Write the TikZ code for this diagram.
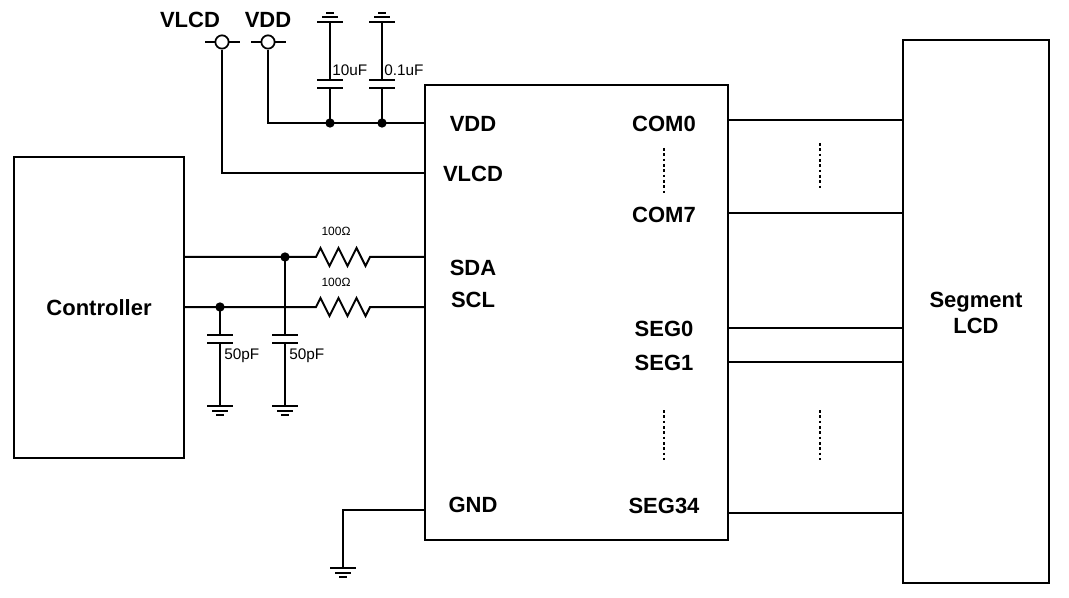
\documentclass[tikz,border=0pt]{standalone}
\usepackage{fontspec}
\setmainfont{Liberation Sans}
\begin{document}
\begin{tikzpicture}[x=0.75pt,y=-0.75pt,line width=1.5pt,
  box/.style={draw,line width=1.5pt},
  big/.style={font=\fontsize{16.5}{19}\selectfont\bfseries},
  small/.style={font=\fontsize{11.5}{13}\selectfont},
  tiny/.style={font=\fontsize{9}{10}\selectfont},
  dot/.style={circle,fill,inner sep=0pt,minimum size=7pt},
  gnd/.pic={\draw (0,0)--(0,6); \draw (-13,6)--(13,6); \draw (-8,11)--(8,11); \draw (-4,15)--(4,15);},
  gndup/.pic={\draw (0,0)--(0,-6); \draw (-13,-6)--(13,-6); \draw (-8,-11)--(8,-11); \draw (-4,-15)--(4,-15);},
  capv/.pic={\draw (-13,-4)--(13,-4); \draw (-13,4)--(13,4);}]
\useasboundingbox (0,0) rectangle (1069,598);
% boxes
\draw[box] (14,157) rectangle (184,458);
\node[big] (ctrl) at (99,308) {Controller};
\draw[box] (425,85) rectangle (728,540);
\draw[box] (903,40) rectangle (1049,583);
\node[big,align=center] (lcd) at (976,313) {Segment\\LCD};
% chip labels
\node[big] (pvdd) at (473,124) {VDD};
\node[big] (pvlcd) at (473,174) {VLCD};
\node[big] (psda) at (473,268) {SDA};
\node[big] (pscl) at (473,300) {SCL};
\node[big] (pgnd) at (473,505) {GND};
\node[big] (c0) at (664,124) {COM0};
\node[big] (c7) at (664,215) {COM7};
\node[big] (s0) at (664,329) {SEG0};
\node[big] (s1) at (664,363) {SEG1};
\node[big] (s34) at (664,506) {SEG34};
\draw[dotted,line width=2pt] (664,148)--(664,193);
\draw[dotted,line width=2pt] (664,410)--(664,460);
\draw[dotted,line width=2pt] (820,143)--(820,190);
\draw[dotted,line width=2pt] (820,410)--(820,460);
% right lines
\foreach \y in {120,213,328,362,513} \draw (728,\y)--(903,\y);
% terminals
\node[big] (tvlcd) at (190,20) {VLCD};
\node[big] (tvdd) at (268,20) {VDD};
\draw (205,42)--(240,42); \draw (251,42)--(286,42);
\node[draw,circle,fill=white,inner sep=0pt,minimum size=10pt,line width=1.3pt] (cv) at (222,42) {};
\node[draw,circle,fill=white,inner sep=0pt,minimum size=10pt,line width=1.3pt] (cd) at (268,42) {};
\draw (cd.south)--(268,123)--(425,123);
\draw (cv.south)--(222,173)--(425,173);
% top caps
\foreach \x/\l in {330/10uF,382/0.1uF}{
  \draw (\x,28)--(\x,80); \draw (\x,88)--(\x,123);
  \pic at (\x,84) {capv};
  \pic at (\x,28) {gndup};
  \node[dot] at (\x,123) {};
  \node[small,anchor=west,inner sep=1pt] at (\x,70) {\l};
}
% SDA / SCL
\draw (184,257)--(316,257) -- ++(4.5,-9) -- ++(9,18) -- ++(9,-18) -- ++(9,18) -- ++(9,-18) -- ++(9,18) -- ++(4.5,-9) -- (425,257);
\draw (184,307)--(316,307) -- ++(4.5,-9) -- ++(9,18) -- ++(9,-18) -- ++(9,18) -- ++(9,-18) -- ++(9,18) -- ++(4.5,-9) -- (425,307);
\node[tiny] at (336,231) {100Ω};
\node[tiny] at (336,282) {100Ω};
\node[dot] at (285,257) {};
\node[dot] at (220,307) {};
\foreach \x/\t in {220/307,285/257}{
  \draw (\x,\t)--(\x,335); \draw (\x,343)--(\x,400);
  \pic at (\x,339) {capv};
  \pic at (\x,400) {gnd};
  \node[small,anchor=west,inner sep=1pt] at (\x+2,356) {50pF};
}
% GND
\draw (425,510)--(343,510)--(343,562);
\pic at (343,562) {gnd};
\end{tikzpicture}
\end{document}
